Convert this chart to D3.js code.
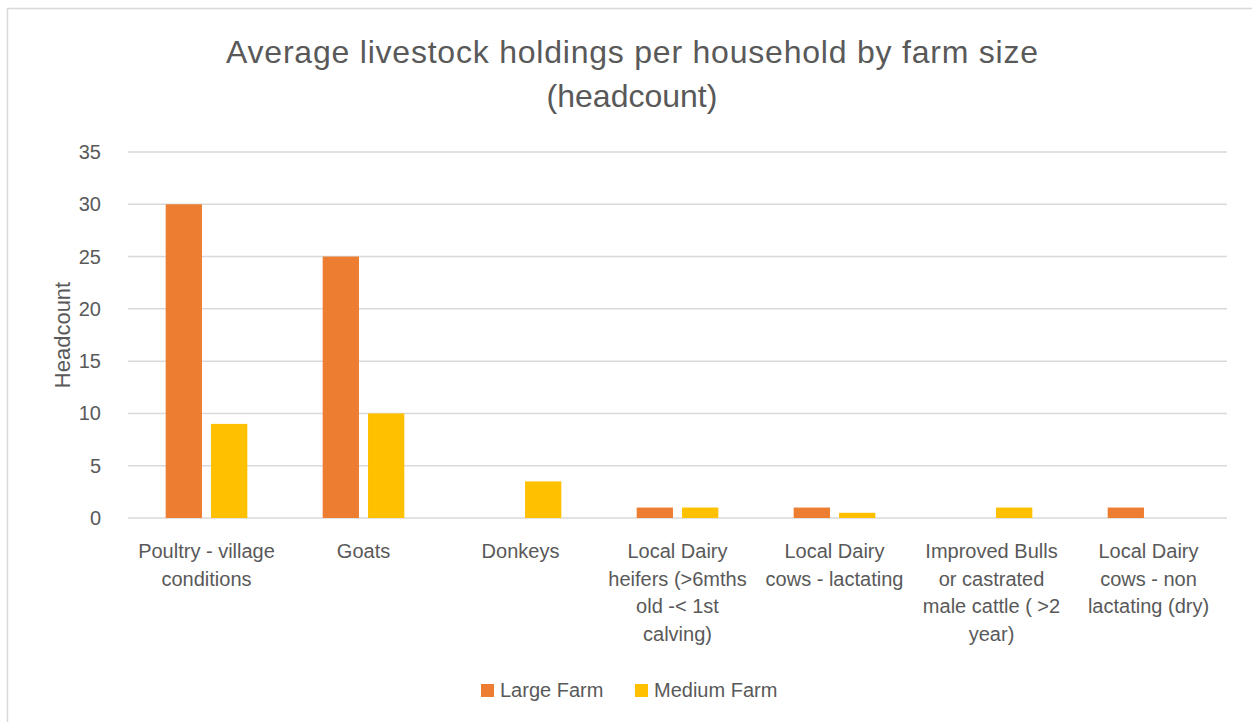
<!DOCTYPE html>
<html>
<head>
<meta charset="utf-8">
<script src="https://cdn.jsdelivr.net/npm/d3@7"></script>
<style>
  body { margin: 0; background: #fff; }
  text { font-family: "Liberation Sans", Arial, sans-serif; fill: #595959; }
</style>
</head>
<body>
<svg id="chart" width="1252" height="722"></svg>
<script>
// chart data
var categories = [
  ["Poultry - village", "conditions"],
  ["Goats"],
  ["Donkeys"],
  ["Local Dairy", "heifers (>6mths", "old  -< 1st", "calving)"],
  ["Local Dairy", "cows - lactating"],
  ["Improved Bulls", "or castrated", "male cattle ( >2", "year)"],
  ["Local Dairy", "cows - non", "lactating (dry)"]
];
var seriesNames = ["Large Farm", "Medium Farm"];
var largeFarm  = [30, 25, 0, 1, 1, 0, 1];
var mediumFarm = [9, 10, 3.5, 1, 0.5, 1, 0];
var yTicks = [0, 5, 10, 15, 20, 25, 30, 35];
var colors = ["#ED7D31", "#FFC000"];

var svg = d3.select("#chart");

// chart frame
svg.append("rect")
  .attr("x", 7.5).attr("y", 8.5)
  .attr("width", 1260).attr("height", 730)
  .attr("fill", "none").attr("stroke", "#d9d9d9").attr("stroke-width", 1.5);

// title
svg.append("text")
  .attr("x", 632).attr("y", 63)
  .attr("text-anchor", "middle")
  .style("font-size", "32px")
  .attr("textLength", 812)
  .text("Average livestock holdings per household by farm size");
svg.append("text")
  .attr("x", 632).attr("y", 107)
  .attr("text-anchor", "middle")
  .style("font-size", "32px")
  .text("(headcount)");

var plotLeft = 128, plotRight = 1227, plotTop = 152, plotBottom = 518;

var x0 = d3.scaleBand().domain(d3.range(categories.length)).range([plotLeft, plotRight]);
var groupW = x0.bandwidth() * 0.52;
var x1 = d3.scaleBand().domain(d3.range(seriesNames.length)).range([0, groupW]).paddingInner(0.2);
var y = d3.scaleLinear().domain([0, 35]).range([plotBottom, plotTop]);

// gridlines
svg.append("g").selectAll("line")
  .data(yTicks)
  .enter().append("line")
  .attr("x1", plotLeft).attr("x2", plotRight)
  .attr("y1", function(d) { return y(d); })
  .attr("y2", function(d) { return y(d); })
  .attr("stroke", "#d9d9d9").attr("stroke-width", 1.5);

// y tick labels
svg.append("g").selectAll("text")
  .data(yTicks)
  .enter().append("text")
  .attr("x", 101)
  .attr("y", function(d) { return y(d); })
  .attr("dy", "0.35em")
  .attr("text-anchor", "end")
  .style("font-size", "20px")
  .text(function(d) { return d; });

// y axis title
svg.append("text")
  .attr("transform", "translate(70," + ((plotTop + plotBottom) / 2) + ") rotate(-90)")
  .attr("text-anchor", "middle")
  .style("font-size", "22px")
  .text("Headcount");

// bars
var seriesData = [largeFarm, mediumFarm];
seriesData.forEach(function(vals, s) {
  svg.append("g").selectAll("rect")
    .data(vals)
    .enter().append("rect")
    .attr("x", function(d, i) { return x0(i) + (x0.bandwidth() - groupW) / 2 + x1(s); })
    .attr("y", function(d) { return y(d); })
    .attr("width", x1.bandwidth())
    .attr("height", function(d) { return plotBottom - y(d); })
    .attr("fill", colors[s]);
});

// category labels
var labels = svg.append("g").selectAll("text")
  .data(categories)
  .enter().append("text")
  .attr("text-anchor", "middle")
  .style("font-size", "20px")
  .attr("transform", function(d, i) { return "translate(" + (x0(i) + x0.bandwidth() / 2) + ",558)"; });
labels.selectAll("tspan")
  .data(function(d) { return d; })
  .enter().append("tspan")
  .attr("x", 0)
  .attr("y", function(d, i) { return i * 27.5; })
  .text(function(d) { return d; });

// legend
var legendX = [481, 635];
seriesNames.forEach(function(name, s) {
  svg.append("rect")
    .attr("x", legendX[s]).attr("y", 684)
    .attr("width", 13).attr("height", 13)
    .attr("fill", colors[s]);
  svg.append("text")
    .attr("x", legendX[s] + 19).attr("y", 697)
    .style("font-size", "20px")
    .text(name);
});
</script>
</body>
</html>
